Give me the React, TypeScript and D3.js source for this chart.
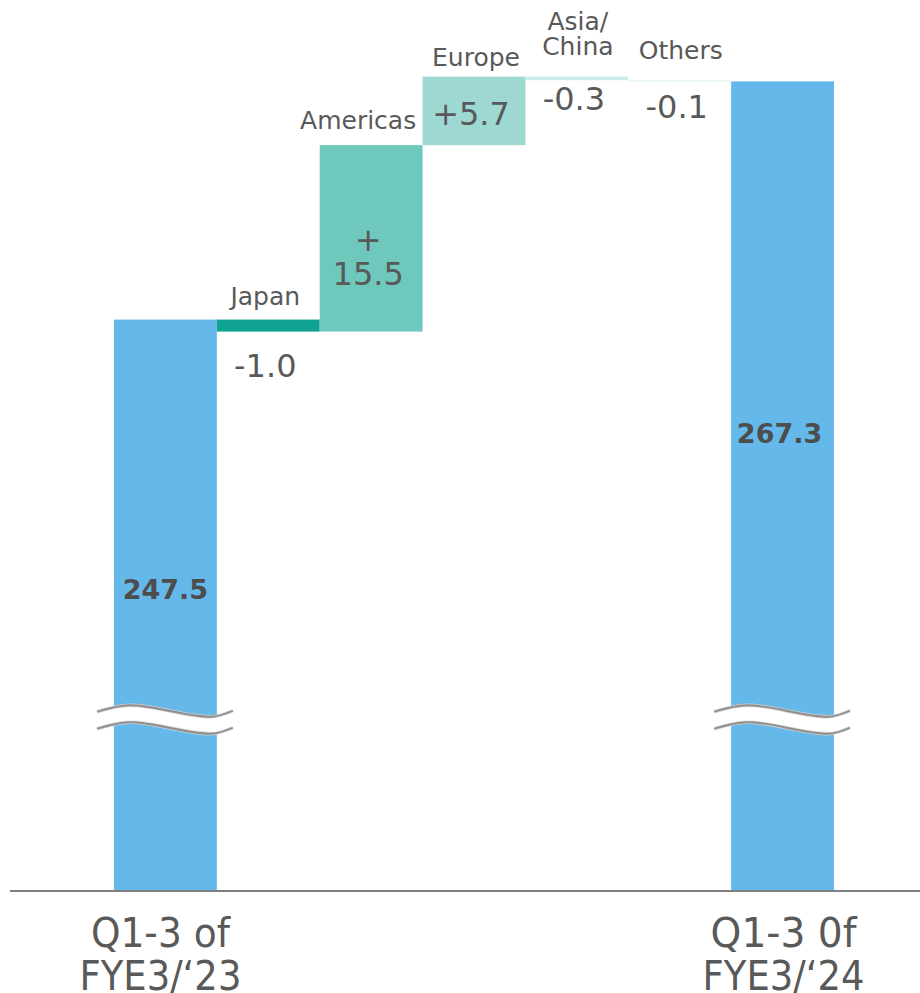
import React from "react";
import * as d3 from "d3";

// ---- data ----
const categories = ["start", "Japan", "Americas", "Europe", "Asia/China", "Others", "end"];
const startValue = 247.5;
const endValue = 267.3;
const deltaRegions = ["Japan", "Americas", "Europe", "Asia/China", "Others"];
const deltaValues = [-1.0, 15.5, 5.7, -0.3, -0.1];
const regionLabelLines = [["Japan"], ["Americas"], ["Europe"], ["Asia/", "China"], ["Others"]];
const deltaLabelLines = [["-1.0"], ["+", "15.5"], ["+5.7"], ["-0.3"], ["-0.1"]];
const totalLabels = ["247.5", "267.3"];
const bottomLabels = [["Q1-3 of", "FYE3/\u201823"], ["Q1-3 0f", "FYE3/\u201824"]];
const axisMin = 200;
const axisMax = 270;
const breakValue = 214.9;

// ---- style ----
const W = 920;
const H = 993;
const FONT = "'DejaVu Sans', Verdana, sans-serif";
const TEXT = "#595959";
const BLUE = "#64B9EA";
const deltaColors = ["#0FA290", "#6EC8BC", "#9DD9D2", "#CCECE8", "#E3F4F2"];

export default function App() {
  const x = d3.scaleBand<string>().domain(categories).range([114, 834]).padding(0);
  const y = d3.scaleLinear().domain([axisMin, axisMax]).range([891, 891 - (axisMax - axisMin) * 12.03]);
  const bw = x.bandwidth();

  // waterfall steps
  let running = startValue;
  const steps = deltaValues.map((d, i) => {
    const from = running;
    const to = running + d;
    running = to;
    return { region: deltaRegions[i], from, to, delta: d, i };
  });

  // break shapes
  const breakShape = (cat: string) => {
    const x0 = (x(cat) as number) - 17;
    const x1 = (x(cat) as number) + bw + 16;
    const yb = y(breakValue);
    const pts: [number, number][] = [
      [x0, yb],
      [x0 + 0.24 * (x1 - x0), yb - 6.5],
      [x0 + 0.84 * (x1 - x0), yb + 5],
      [x1, yb - 1],
    ];
    const gap = 17;
    const area = d3
      .area<[number, number]>()
      .x((p) => p[0])
      .y0((p) => p[1] + gap)
      .y1((p) => p[1])
      .curve(d3.curveMonotoneX);
    const line = d3
      .line<[number, number]>()
      .x((p) => p[0])
      .y((p) => p[1])
      .curve(d3.curveMonotoneX);
    const lower = pts.map((p) => [p[0], p[1] + gap] as [number, number]);
    return (
      <g key={"brk" + cat}>
        <path d={area(pts) || ""} fill="#fff" />
        <path d={line(pts) || ""} fill="none" stroke="#d0d0d0" strokeWidth={3.5} />
        <path d={line(lower) || ""} fill="none" stroke="#d0d0d0" strokeWidth={3.5} />
        <path d={line(pts) || ""} fill="none" stroke="#8f8f8f" strokeWidth={1.8} />
        <path d={line(lower) || ""} fill="none" stroke="#8f8f8f" strokeWidth={1.8} />
      </g>
    );
  };

  const regionLabelOffsets = [15, 16, 11, 22, 21]; // px above bar top (last line baseline)
  const regionLabelDx = [-3, -13, 2, 1, 1];
  const deltaLabelBaseline = [377, 251, 125, 110, 118];

  return (
    <svg
      width={W}
      height={H}
      style={{ position: "absolute", left: 0, top: 0, display: "block", background: "#fff" }}
      fontFamily={FONT}
    >
      {/* total bars */}
      <rect x={x("start")} y={y(startValue)} width={bw} height={y(axisMin) - y(startValue)} fill={BLUE} />
      <rect x={x("end")} y={y(endValue)} width={bw} height={y(axisMin) - y(endValue)} fill={BLUE} />

      {/* delta bars */}
      {steps.map((s) => (
        <rect
          key={s.region}
          x={x(s.region)}
          y={y(Math.max(s.from, s.to))}
          width={bw}
          height={Math.abs(y(s.from) - y(s.to))}
          fill={deltaColors[s.i]}
        />
      ))}

      {/* breaks */}
      {breakShape("start")}
      {breakShape("end")}

      {/* axis line */}
      <line x1={10} x2={W} y1={y(axisMin)} y2={y(axisMin)} stroke="#7f7f7f" strokeWidth={2} />

      {/* region labels */}
      {steps.map((s) => {
        const lines = regionLabelLines[s.i];
        const cx = (x(s.region) as number) + bw / 2 + regionLabelDx[s.i];
        const baseY = y(Math.max(s.from, s.to)) - regionLabelOffsets[s.i];
        return lines.map((l, k) => (
          <text
            key={"rl" + s.region + k}
            x={cx}
            y={baseY - (lines.length - 1 - k) * 25}
            textAnchor="middle"
            fontSize={25}
            fill={TEXT}
          >
            {l}
          </text>
        ));
      })}

      {/* delta value labels */}
      {steps.map((s) => {
        const lines = deltaLabelLines[s.i];
        const cx = (x(s.region) as number) + bw / 2 - 3;
        return lines.map((l, k) => (
          <text
            key={"dl" + s.region + k}
            x={cx}
            y={deltaLabelBaseline[s.i] + k * 34}
            textAnchor="middle"
            fontSize={32}
            fill={TEXT}
          >
            {l}
          </text>
        ));
      })}

      {/* total labels */}
      <text x={(x("start") as number) + bw / 2} y={599} textAnchor="middle" fontSize={27} fontWeight="bold" fill="#4d4d4d">
        {totalLabels[0]}
      </text>
      <text x={(x("end") as number) + bw / 2 - 3} y={443} textAnchor="middle" fontSize={27} fontWeight="bold" fill="#4d4d4d">
        {totalLabels[1]}
      </text>

      {/* bottom category labels */}
      {(["start", "end"] as const).map((c, i) => {
        const cx = (x(c) as number) + bw / 2 + (i === 0 ? -5 : 1);
        const widths = i === 0 ? [139, 162] : [146, 162];
        return (
          <g key={"bl" + c}>
            {bottomLabels[i].map((l, k) => (
              <text
                key={k}
                x={cx - widths[k] / 2}
                y={947 + k * 43}
                fontSize={40}
                fill={TEXT}
                textLength={widths[k]}
                lengthAdjust="spacingAndGlyphs"
              >
                {l}
              </text>
            ))}
          </g>
        );
      })}
    </svg>
  );
}
